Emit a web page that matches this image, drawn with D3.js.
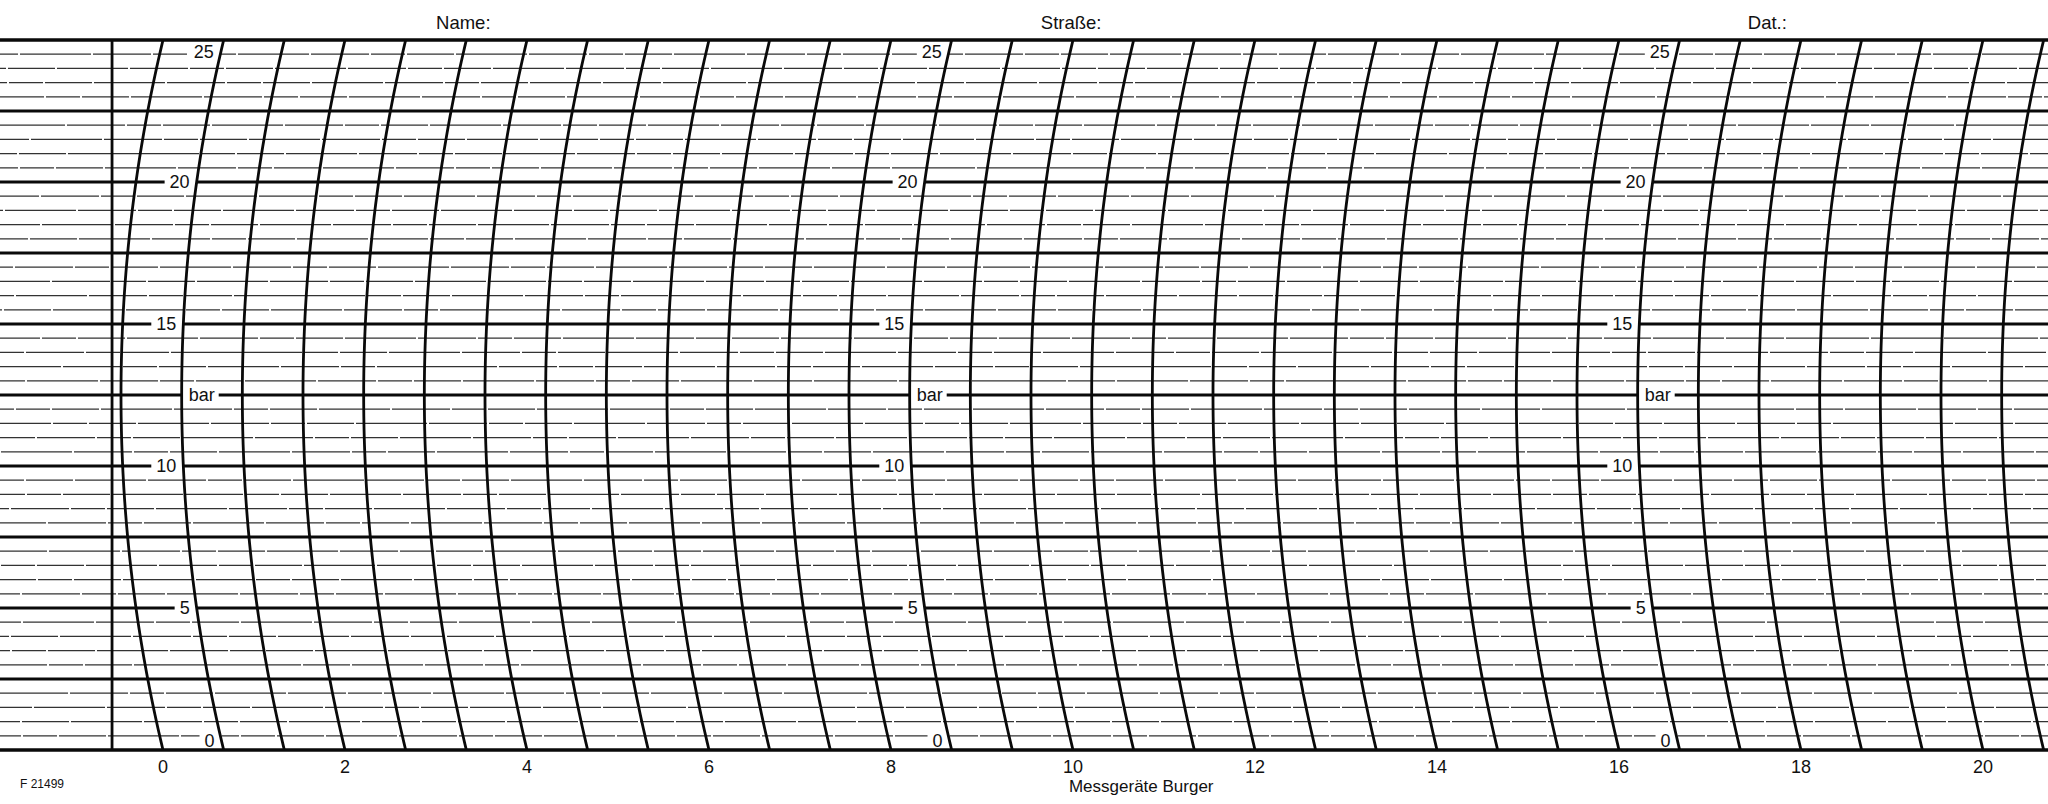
<!DOCTYPE html>
<html>
<head>
<meta charset="utf-8">
<script src="https://cdn.jsdelivr.net/npm/d3@7"></script>
<style>
html,body{margin:0;padding:0;background:#fff;}
svg{display:block;}
text{font-family:"Liberation Sans",Arial,Helvetica,sans-serif;fill:#111;}
</style>
</head>
<body>
<svg id="chart" width="2048" height="804"></svg>
<script>
// ---- data ----
const pressureDomain = [0, 25];               // bar
const timeDomain = [0, 20];                   // time units on the bottom scale
const minorStep = 0.5;                        // bar between thin lines
const majorStep = 2.5;                        // bar between heavy lines
const arcStep = 2 / 3;                        // time between arc lines
const arcCount = 32;                          // number of arc lines
const startLine = -0.56;                      // straight vertical start line
const timeTicks = [0, 2, 4, 6, 8, 10, 12, 14, 16, 18, 20];
const pressureLabels = [0, 5, 10, 15, 20, 25];
const unitLabel = "bar";
const unitLabelValue = 12.5;
const labelArcs = [2 / 3, 8 + 2 / 3, 16 + 2 / 3];
const headerFields = ["Name:", "Straße:", "Dat.:"];
const headerPos = [3.3, 9.98, 17.63];        // positions along the time scale
const formNumber = "F 21499";
const maker = "Messgeräte Burger";

// ---- setup ----
const W = 2048, H = 804;
const plotTop = 40, plotBottom = 750;
const svg = d3.select("#chart");
const y = d3.scaleLinear().domain(pressureDomain).range([plotBottom, plotTop]);
const x = d3.scaleLinear().domain(timeDomain).range([163, 1983]);

const midY = y((pressureDomain[0] + pressureDomain[1]) / 2);
const half = (plotBottom - plotTop) / 2;
const sagitta = 42;
const R = (half * half) / (2 * sagitta) + sagitta / 2;
function sag(dy) { return R - Math.sqrt(R * R - dy * dy); }
function arcX(t, py) { return x(t) - sagitta + sag(py - midY); }

// ---- horizontal lines ----
const nLines = Math.round((pressureDomain[1] - pressureDomain[0]) / minorStep);
const levels = d3.range(nLines + 1).map(i => pressureDomain[0] + i * minorStep);
const gH = svg.append("g");
levels.forEach((v, i) => {
  const isMajor = Math.abs(v / majorStep - Math.round(v / majorStep)) < 1e-6;
  gH.append("line")
    .attr("x1", 0).attr("x2", W)
    .attr("y1", y(v)).attr("y2", y(v))
    .attr("stroke", isMajor ? "#0a0a0a" : "#333")
    .attr("stroke-width", isMajor ? 2.8 : 1.3)
    .attr("stroke-dasharray", isMajor ? null : "58,2,34,2,47,2,71,2")
    .attr("stroke-dashoffset", isMajor ? null : (i * 37) % 211);
});

// ---- label gaps & labels ----
const gL = svg.append("g");
const fs = 18;
labelArcs.forEach(t => {
  pressureLabels.forEach(v => {
    let py = y(v);
    if (v === pressureDomain[1]) py += 12;
    if (v === pressureDomain[0]) py -= 9;
    const ax = arcX(t, py);
    const txt = gL.append("text")
      .attr("x", ax - 7).attr("y", py)
      .attr("text-anchor", "end")
      .attr("dominant-baseline", "central")
      .attr("font-size", fs)
      .text(v);
    const bb = txt.node().getBBox();
    gL.insert("rect", "text")
      .attr("x", bb.x - 5).attr("y", py - 7)
      .attr("width", ax - (bb.x - 5)).attr("height", 14)
      .attr("fill", "#fff");
  });
  const py = y(unitLabelValue);
  const ax = arcX(t, py);
  const txt = gL.append("text")
    .attr("x", ax + 7).attr("y", py)
    .attr("text-anchor", "start")
    .attr("dominant-baseline", "central")
    .attr("font-size", fs)
    .text(unitLabel);
  const bb = txt.node().getBBox();
  gL.insert("rect", "text")
    .attr("x", ax).attr("y", py - 7)
    .attr("width", bb.x + bb.width + 4 - ax).attr("height", 14)
    .attr("fill", "#fff");
});

// ---- start line ----
svg.append("line")
  .attr("x1", x(startLine)).attr("x2", x(startLine))
  .attr("y1", y(pressureDomain[1])).attr("y2", y(pressureDomain[0]))
  .attr("stroke", "#0a0a0a").attr("stroke-width", 2.8);

// ---- arcs ----
const samples = d3.range(0, 101).map(i => plotTop + (plotBottom - plotTop) * i / 100);
const line = d3.line().x(d => d[0]).y(d => d[1]);
const arcs = d3.range(arcCount).map(k => k * arcStep);
svg.append("g").selectAll("path").data(arcs).join("path")
  .attr("d", t => line(samples.map(py => [arcX(t, py), py])))
  .attr("fill", "none")
  .attr("stroke", "#0a0a0a")
  .attr("stroke-width", 2.8);

// ---- borders ----
[pressureDomain[0], pressureDomain[1]].forEach(v => {
  svg.append("line").attr("x1", 0).attr("x2", W)
    .attr("y1", y(v)).attr("y2", y(v))
    .attr("stroke", "#0a0a0a").attr("stroke-width", 3);
});

// ---- bottom time axis labels ----
svg.append("g").selectAll("text").data(timeTicks).join("text")
  .attr("x", d => x(d)).attr("y", 767)
  .attr("text-anchor", "middle")
  .attr("dominant-baseline", "central")
  .attr("font-size", fs)
  .text(d => d);

// ---- header ----
svg.append("g").selectAll("text").data(headerFields).join("text")
  .attr("x", (d, i) => x(headerPos[i])).attr("y", 22)
  .attr("text-anchor", "middle")
  .attr("dominant-baseline", "central")
  .attr("font-size", 18.5)
  .text(d => d);

svg.append("text").attr("x", 20).attr("y", 784)
  .attr("dominant-baseline", "central")
  .attr("font-size", 12).text(formNumber);
svg.append("text").attr("x", x(10.75)).attr("y", 786)
  .attr("text-anchor", "middle")
  .attr("dominant-baseline", "central")
  .attr("font-size", 17).text(maker);
</script>
</body>
</html>
